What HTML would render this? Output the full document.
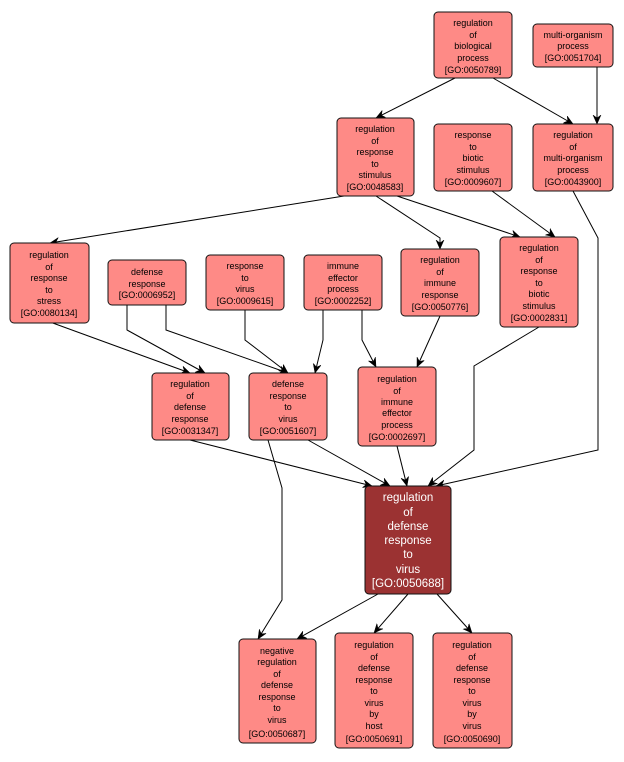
<!DOCTYPE html>
<html><head><meta charset="utf-8"><style>
html,body{margin:0;padding:0;background:#fff;}
svg{display:block;}
text{font-family:"Liberation Sans",sans-serif;font-size:9px;fill:#000;text-anchor:middle;}
.m text{fill:#fff;font-size:11.5px;}
rect.n{fill:#fe8a86;stroke:#111;stroke-width:1;}
rect.d{fill:#9b3232;stroke:#111;stroke-width:1;}
path{fill:none;stroke:#000;stroke-width:1;}
</style></head><body>
<svg width="624" height="762" viewBox="0 0 624 762" xmlns="http://www.w3.org/2000/svg">
<defs><marker id="a" markerWidth="10" markerHeight="10" refX="9" refY="5" orient="auto" markerUnits="userSpaceOnUse"><path d="M0,1 L9,5 L0,9 L3,5 Z" style="fill:#000;stroke:#000;stroke-width:0.5"/></marker></defs>
<g marker-end="url(#a)">
<path d="M455,78 L376,118"/>
<path d="M493,78 L573,124"/>
<path d="M597,67 L597,124"/>
<path d="M344,196 L50,243"/>
<path d="M376,196 L440,238 L440,249"/>
<path d="M397,196 L520,237"/>
<path d="M492,191 L555,237"/>
<path d="M573,191 L598,238 L598,450 L436,486"/>
<path d="M50,322 L190,373"/>
<path d="M127,305 L127,330 L205,373"/>
<path d="M166,305 L166,330 L288,373"/>
<path d="M245,310 L245,340 L288,373"/>
<path d="M323,310 L323,340 L315,373"/>
<path d="M362,310 L362,340 L376,367"/>
<path d="M440,316 L417,367"/>
<path d="M539,327 L474,366 L474,450 L428,486"/>
<path d="M190,440 L372,486"/>
<path d="M308,440 L390,486"/>
<path d="M268,440 L282,488 L282,600 L258,639"/>
<path d="M397,446 L407,486"/>
<path d="M378,594 L297,639"/>
<path d="M408,594 L374,633"/>
<path d="M437,594 L472,633"/>
</g>
<g>
<rect class="n" x="434" y="12" width="78" height="66" rx="4"/>
<text x="473" y="26">regulation</text><text x="473" y="38">of</text><text x="473" y="49">biological</text><text x="473" y="61">process</text><text x="473" y="73">[GO:0050789]</text>
<rect class="n" x="533" y="24" width="80" height="43" rx="4"/>
<text x="573" y="38">multi-organism</text><text x="573" y="49">process</text><text x="573" y="61">[GO:0051704]</text>
<rect class="n" x="337" y="118" width="77" height="78" rx="4"/>
<text x="375" y="132">regulation</text><text x="375" y="144">of</text><text x="375" y="155">response</text><text x="375" y="167">to</text><text x="375" y="178">stimulus</text><text x="375" y="190">[GO:0048583]</text>
<rect class="n" x="434" y="124" width="78" height="67" rx="4"/>
<text x="473" y="138">response</text><text x="473" y="150">to</text><text x="473" y="161">biotic</text><text x="473" y="173">stimulus</text><text x="473" y="185">[GO:0009607]</text>
<rect class="n" x="533" y="124" width="80" height="67" rx="4"/>
<text x="573" y="138">regulation</text><text x="573" y="150">of</text><text x="573" y="161">multi-organism</text><text x="573" y="173">process</text><text x="573" y="185">[GO:0043900]</text>
<rect class="n" x="10" y="243" width="79" height="80" rx="4"/>
<text x="49" y="258">regulation</text><text x="49" y="270">of</text><text x="49" y="281">response</text><text x="49" y="293">to</text><text x="49" y="304">stress</text><text x="49" y="316">[GO:0080134]</text>
<rect class="n" x="108" y="260" width="78" height="45" rx="4"/>
<text x="147" y="275">defense</text><text x="147" y="287">response</text><text x="147" y="298">[GO:0006952]</text>
<rect class="n" x="206" y="255" width="78" height="55" rx="4"/>
<text x="245" y="269">response</text><text x="245" y="281">to</text><text x="245" y="292">virus</text><text x="245" y="304">[GO:0009615]</text>
<rect class="n" x="304" y="255" width="78" height="55" rx="4"/>
<text x="343" y="269">immune</text><text x="343" y="281">effector</text><text x="343" y="292">process</text><text x="343" y="304">[GO:0002252]</text>
<rect class="n" x="401" y="249" width="78" height="67" rx="4"/>
<text x="440" y="263">regulation</text><text x="440" y="275">of</text><text x="440" y="286">immune</text><text x="440" y="298">response</text><text x="440" y="310">[GO:0050776]</text>
<rect class="n" x="500" y="237" width="78" height="90" rx="4"/>
<text x="539" y="251">regulation</text><text x="539" y="263">of</text><text x="539" y="274">response</text><text x="539" y="286">to</text><text x="539" y="297">biotic</text><text x="539" y="309">stimulus</text><text x="539" y="321">[GO:0002831]</text>
<rect class="n" x="152" y="373" width="77" height="67" rx="4"/>
<text x="190" y="387">regulation</text><text x="190" y="399">of</text><text x="190" y="410">defense</text><text x="190" y="422">response</text><text x="190" y="434">[GO:0031347]</text>
<rect class="n" x="249" y="373" width="78" height="67" rx="4"/>
<text x="288" y="387">defense</text><text x="288" y="399">response</text><text x="288" y="410">to</text><text x="288" y="422">virus</text><text x="288" y="434">[GO:0051607]</text>
<rect class="n" x="358" y="367" width="78" height="79" rx="4"/>
<text x="397" y="382">regulation</text><text x="397" y="394">of</text><text x="397" y="405">immune</text><text x="397" y="416">effector</text><text x="397" y="428">process</text><text x="397" y="440">[GO:0002697]</text>
<g class="m">
<rect class="d" x="365" y="486" width="86" height="108" rx="4"/>
<text x="408" y="501">regulation</text><text x="408" y="516">of</text><text x="408" y="530">defense</text><text x="408" y="544">response</text><text x="408" y="558">to</text><text x="408" y="573">virus</text><text x="408" y="587">[GO:0050688]</text>
</g>
<rect class="n" x="239" y="639" width="77" height="104" rx="4"/>
<text x="277" y="654">negative</text><text x="277" y="665">regulation</text><text x="277" y="677">of</text><text x="277" y="688">defense</text><text x="277" y="700">response</text><text x="277" y="711">to</text><text x="277" y="723">virus</text><text x="277" y="737">[GO:0050687]</text>
<rect class="n" x="335" y="633" width="78" height="115" rx="4"/>
<text x="374" y="648">regulation</text><text x="374" y="660">of</text><text x="374" y="671">defense</text><text x="374" y="683">response</text><text x="374" y="694">to</text><text x="374" y="706">virus</text><text x="374" y="717">by</text><text x="374" y="729">host</text><text x="374" y="742">[GO:0050691]</text>
<rect class="n" x="433" y="633" width="79" height="115" rx="4"/>
<text x="472" y="648">regulation</text><text x="472" y="660">of</text><text x="472" y="671">defense</text><text x="472" y="683">response</text><text x="472" y="694">to</text><text x="472" y="706">virus</text><text x="472" y="717">by</text><text x="472" y="729">virus</text><text x="472" y="742">[GO:0050690]</text>
</g>
</svg>
</body></html>
